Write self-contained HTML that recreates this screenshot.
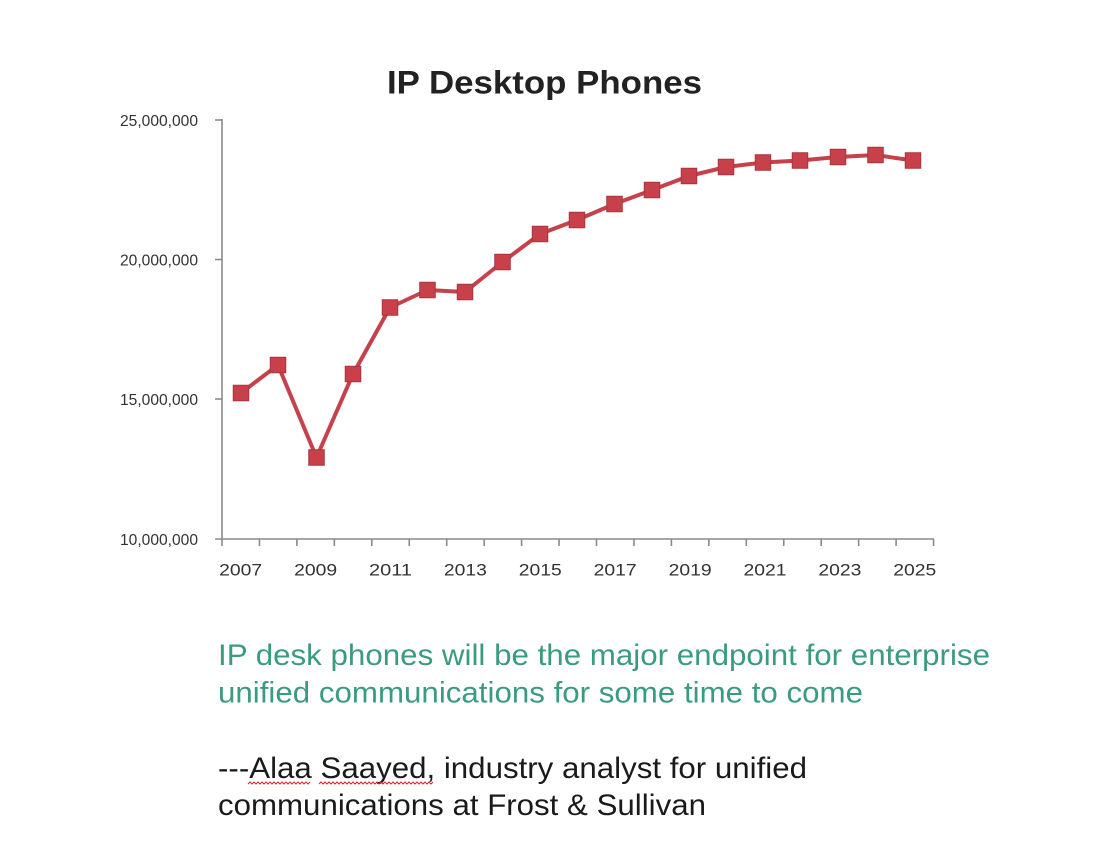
<!DOCTYPE html>
<html><head><meta charset="utf-8"><style>
html,body{margin:0;padding:0;background:#fff;}
svg{display:block;}
</style></head><body>
<svg width="1098" height="852" viewBox="0 0 1098 852" xmlns="http://www.w3.org/2000/svg">
<rect width="1098" height="852" fill="#fff"/>
<text x="544.5" y="93.5" text-anchor="middle" font-family="Liberation Sans, sans-serif" font-size="32" font-weight="bold" fill="#222" textLength="315" lengthAdjust="spacingAndGlyphs">IP Desktop Phones</text>
<g stroke="#8a8a8a" stroke-width="1.6" fill="none">
<line x1="222" y1="119" x2="222" y2="539.5"/>
<line x1="215" y1="120" x2="222" y2="120"/>
<line x1="215" y1="259.5" x2="222" y2="259.5"/>
<line x1="215" y1="399" x2="222" y2="399"/>
<line x1="215" y1="539" x2="934" y2="539"/>
<path d="M222 539v7M259.45 539v7M296.9 539v7M334.35 539v7M371.8 539v7M409.25 539v7M446.7 539v7M484.15 539v7M521.6 539v7M559.05 539v7M596.5 539v7M633.95 539v7M671.4 539v7M708.85 539v7M746.3 539v7M783.75 539v7M821.2 539v7M858.65 539v7M896.1 539v7M933.55 539v7"/>
</g>
<g font-family="Liberation Sans, sans-serif" font-size="16" fill="#333" text-anchor="end">
<text x="198" y="126" textLength="78" lengthAdjust="spacingAndGlyphs">25,000,000</text>
<text x="198" y="265.5" textLength="78" lengthAdjust="spacingAndGlyphs">20,000,000</text>
<text x="198" y="405" textLength="78" lengthAdjust="spacingAndGlyphs">15,000,000</text>
<text x="198" y="545" textLength="78" lengthAdjust="spacingAndGlyphs">10,000,000</text>
</g>
<g font-family="Liberation Sans, sans-serif" font-size="17" fill="#333" text-anchor="middle">
<text x="240.7" y="575.5" textLength="43" lengthAdjust="spacingAndGlyphs">2007</text>
<text x="315.6" y="575.5" textLength="43" lengthAdjust="spacingAndGlyphs">2009</text>
<text x="390.5" y="575.5" textLength="43" lengthAdjust="spacingAndGlyphs">2011</text>
<text x="465.4" y="575.5" textLength="43" lengthAdjust="spacingAndGlyphs">2013</text>
<text x="540.3" y="575.5" textLength="43" lengthAdjust="spacingAndGlyphs">2015</text>
<text x="615.2" y="575.5" textLength="43" lengthAdjust="spacingAndGlyphs">2017</text>
<text x="690.1" y="575.5" textLength="43" lengthAdjust="spacingAndGlyphs">2019</text>
<text x="765" y="575.5" textLength="43" lengthAdjust="spacingAndGlyphs">2021</text>
<text x="839.9" y="575.5" textLength="43" lengthAdjust="spacingAndGlyphs">2023</text>
<text x="914.8" y="575.5" textLength="43" lengthAdjust="spacingAndGlyphs">2025</text>
</g>
<polyline fill="none" stroke="#c4424b" stroke-width="4" stroke-linejoin="round" points="241,393 278,365 316.5,457.5 353,374 390,307.5 427.5,290 465,292 502.5,262 540,234 577,220 614.5,204 652,190 689,176 726,167 763,162.5 800,160.5 838,157 875.5,155 913,160.5"/>
<g fill="#c8414a" stroke="#a9343d" stroke-width="1">
<rect x="233.25" y="385.25" width="15.5" height="15.5"/>
<rect x="270.25" y="357.25" width="15.5" height="15.5"/>
<rect x="308.75" y="449.75" width="15.5" height="15.5"/>
<rect x="345.25" y="366.25" width="15.5" height="15.5"/>
<rect x="382.25" y="299.75" width="15.5" height="15.5"/>
<rect x="419.75" y="282.25" width="15.5" height="15.5"/>
<rect x="457.25" y="284.25" width="15.5" height="15.5"/>
<rect x="494.75" y="254.25" width="15.5" height="15.5"/>
<rect x="532.25" y="226.25" width="15.5" height="15.5"/>
<rect x="569.25" y="212.25" width="15.5" height="15.5"/>
<rect x="606.75" y="196.25" width="15.5" height="15.5"/>
<rect x="644.25" y="182.25" width="15.5" height="15.5"/>
<rect x="681.25" y="168.25" width="15.5" height="15.5"/>
<rect x="718.25" y="159.25" width="15.5" height="15.5"/>
<rect x="755.25" y="154.75" width="15.5" height="15.5"/>
<rect x="792.25" y="152.75" width="15.5" height="15.5"/>
<rect x="830.25" y="149.25" width="15.5" height="15.5"/>
<rect x="867.75" y="147.25" width="15.5" height="15.5"/>
<rect x="905.25" y="152.75" width="15.5" height="15.5"/>
</g>
<g font-family="Liberation Sans, sans-serif" font-size="30" fill="#3a9b80">
<text x="218" y="665" textLength="772" lengthAdjust="spacingAndGlyphs">IP desk phones will be the major endpoint for enterprise</text>
<text x="218" y="702.5" textLength="645" lengthAdjust="spacingAndGlyphs">unified communications for some time to come</text>
</g>
<g font-family="Liberation Sans, sans-serif" font-size="30" fill="#1a1a1a">
<text x="218" y="778" textLength="589" lengthAdjust="spacingAndGlyphs">---Alaa Saayed, industry analyst for unified</text>
<text x="218" y="815" textLength="488" lengthAdjust="spacingAndGlyphs">communications at Frost &amp; Sullivan</text>
</g>
<g fill="none" stroke="#e0202a" stroke-width="1">
<path d="M248 784 l2 -2 l2 2 l2 -2 l2 2 l2 -2 l2 2 l2 -2 l2 2 l2 -2 l2 2 l2 -2 l2 2 l2 -2 l2 2 l2 -2 l2 2 l2 -2 l2 2 l2 -2 l2 2 l2 -2 l2 2 l2 -2 l2 2 l2 -2 l2 2 l2 -2 l2 2 l2 -2 l2 2 l2 -2"/>
<path d="M319 784 l2 -2 l2 2 l2 -2 l2 2 l2 -2 l2 2 l2 -2 l2 2 l2 -2 l2 2 l2 -2 l2 2 l2 -2 l2 2 l2 -2 l2 2 l2 -2 l2 2 l2 -2 l2 2 l2 -2 l2 2 l2 -2 l2 2 l2 -2 l2 2 l2 -2 l2 2 l2 -2 l2 2 l2 -2 l2 2 l2 -2 l2 2 l2 -2 l2 2 l2 -2 l2 2 l2 -2 l2 2 l2 -2 l2 2 l2 -2 l2 2 l2 -2 l2 2 l2 -2 l2 2 l2 -2 l2 2 l2 -2 l2 2 l2 -2 l2 2 l2 -2 l2 2 l2 -2"/>
</g>
</svg>
</body></html>
